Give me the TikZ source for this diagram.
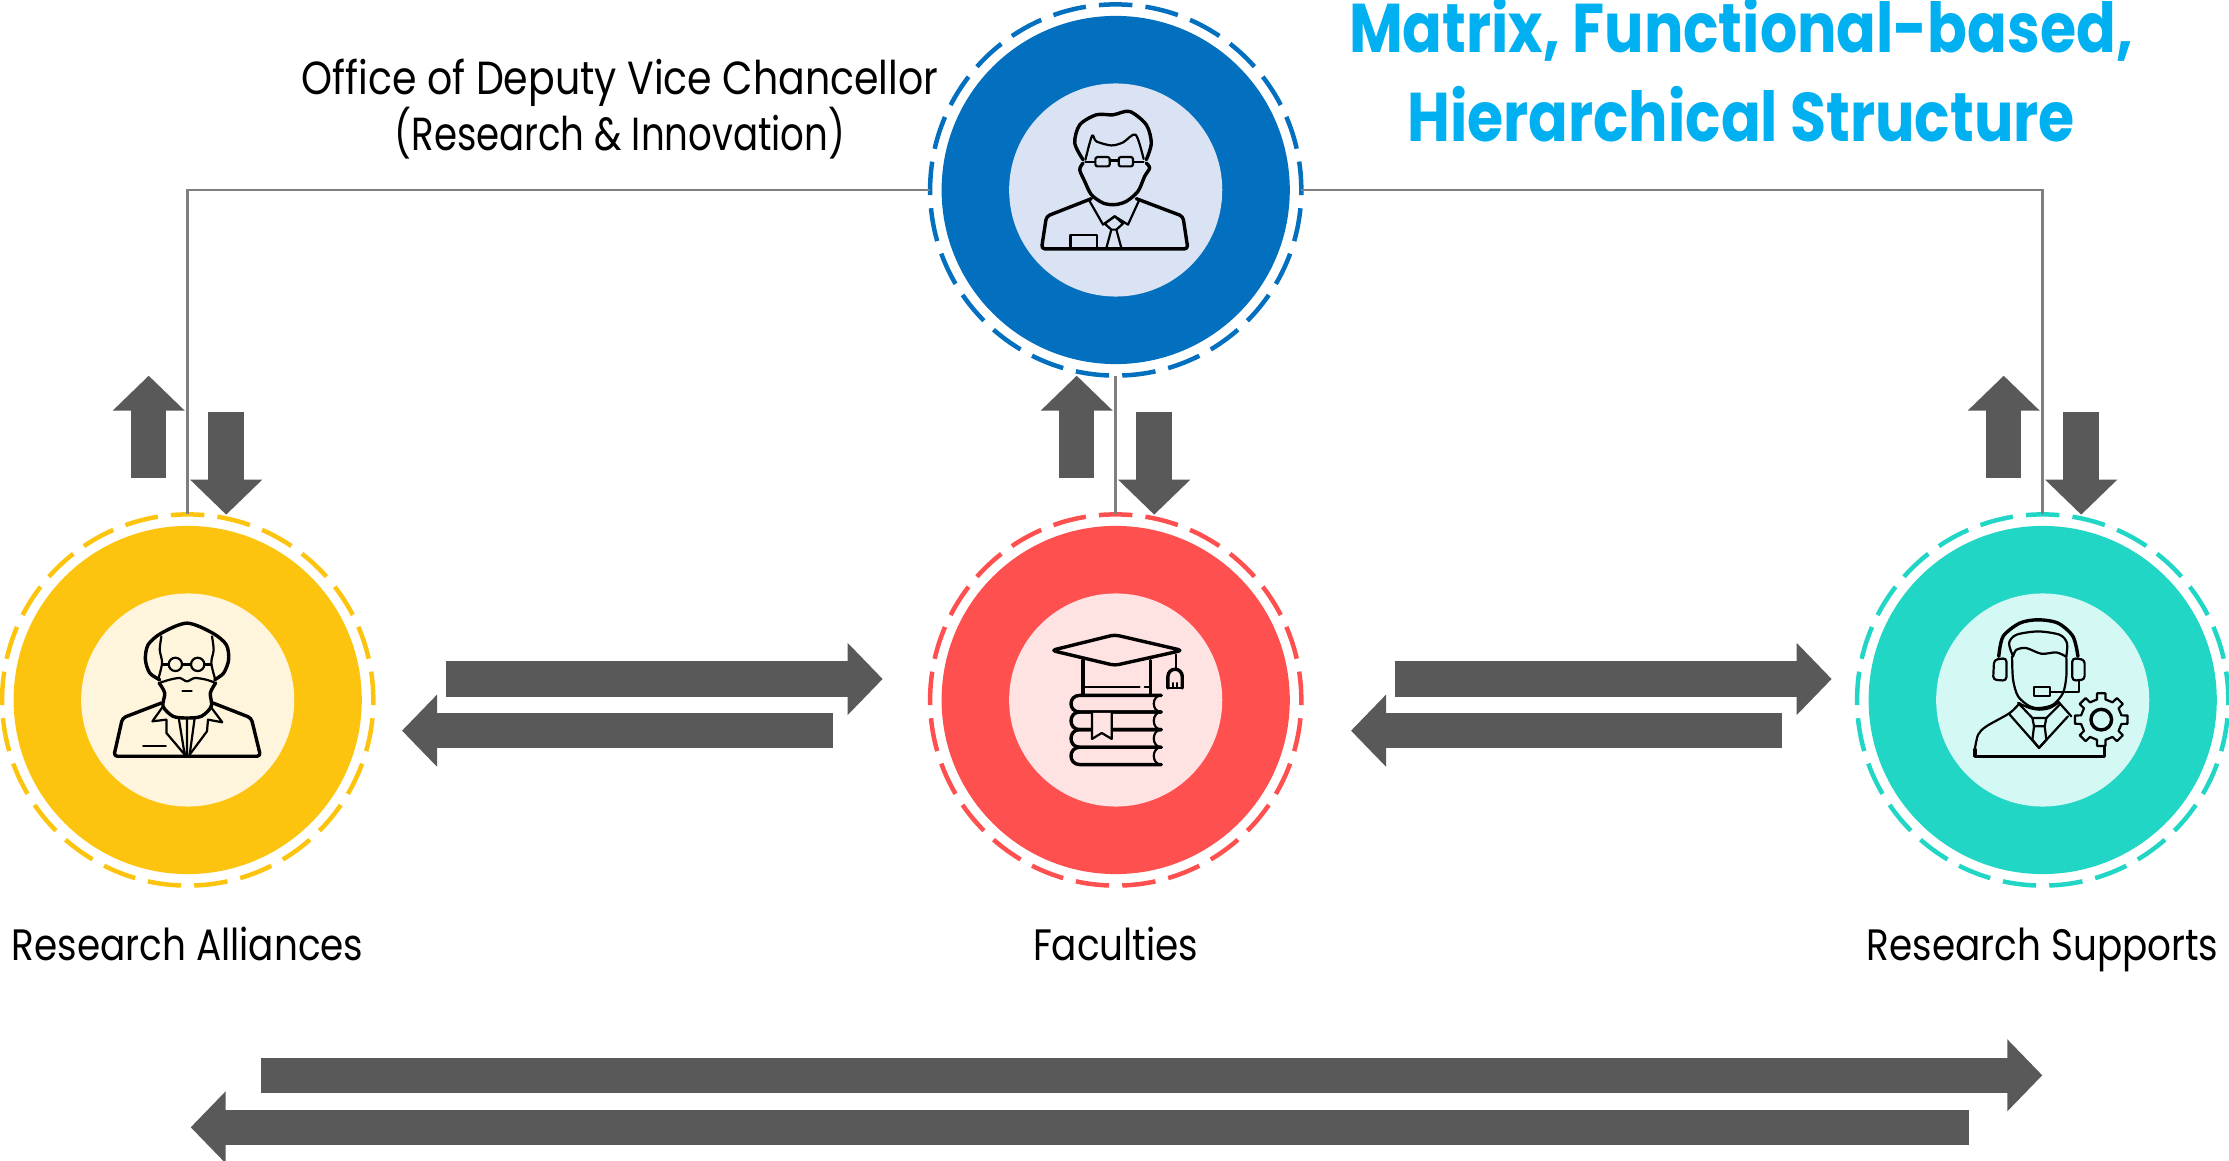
\documentclass[tikz,border=0pt]{standalone}
\usepackage{fontspec}
\usetikzlibrary{arrows.meta}
\newfontfamily\labelfont[FakeStretch=0.85]{Poppins}
\newfontfamily\narrowfont[FakeStretch=0.8]{Poppins}
\definecolor{dvcblue}{HTML}{0370BF}
\definecolor{dvcpale}{HTML}{DAE3F3}
\definecolor{allyellow}{HTML}{FDC40F}
\definecolor{allpale}{HTML}{FFF5DC}
\definecolor{facred}{HTML}{FF5050}
\definecolor{facpale}{HTML}{FFE3E3}
\definecolor{supteal}{HTML}{22D6C6}
\definecolor{suppale}{HTML}{D4F8F4}
\definecolor{blockgrey}{HTML}{595959}
\definecolor{linkgrey}{HTML}{7F7F7F}
\definecolor{titleblue}{HTML}{00B0F0}
\tikzset{
  ringnode/.style={circle, draw=#1, line width=0.045cm, inner sep=0, outer sep=0,
    minimum size=3.71cm, dash pattern=on 0.335cm off 0.1312cm, dash phase=0.05cm},
  discnode/.style={circle, fill=#1, inner sep=0, outer sep=0, minimum size=3.48cm},
  corenode/.style={circle, fill=#1, inner sep=0, outer sep=0, minimum size=2.13cm},
  blockarrow/.style={draw=blockgrey, line width=0.355cm,
    -{Triangle[width=0.7cm,length=0.35cm,fill=blockgrey]}},
  linkline/.style={draw=linkgrey, line width=0.025cm},
  labeltext/.style={font=\labelfont\fontsize{12.5}{16}\selectfont, inner sep=0},
  officetext/.style={font=\labelfont\fontsize{13.2}{16}\selectfont, inner sep=0, align=center},
  titletext/.style={font=\labelfont\bfseries\fontsize{19.6}{25.3}\selectfont,
    text=titleblue, inner sep=0, align=center},
  zoomed/.style={x=0.003333cm, y=-0.003333cm, line join=round, line cap=round},
  iconthick/.style={line width=0.034cm},
  iconthin/.style={line width=0.022cm}
}
\begin{document}
\begin{tikzpicture}[x=0.01cm,y=-0.01cm]
\useasboundingbox (0,0) rectangle (2229,1161);
\foreach \nm/\cx/\cy/\main/\pale in {dvc/1115.7/190/dvcblue/dvcpale, alliances/187.7/700/allyellow/allpale,
    faculties/1115.7/700/facred/facpale, supports/2042.7/700/supteal/suppale} {
  \node [ringnode=\main] (\nm) at (\cx,\cy) {};
  \node [discnode=\main] (\nm disc) at (\nm) {};
  \node [corenode=\pale] (\nm core) at (\nm) {};
}
\draw [linkline] (dvc.west) -| (alliances.north);
\draw [linkline] (dvc.east) -| (supports.north);
\draw [linkline] (dvc.south) -- (faculties.north);
\foreach \nm in {alliances,faculties,supports} {
  \draw [blockarrow] ([shift={(-39,-222)}]\nm.center) -- ([shift={(-39,-324.3)}]\nm.center);
  \draw [blockarrow] ([shift={(38.5,-288)}]\nm.center) -- ([shift={(38.5,-185.3)}]\nm.center);
}
\foreach \xs/\xe/\xt/\xh/\ya/\yb in {445.7/882.7/832.7/402/679/730.7, 1394.7/1831.7/1781.7/1351/679/730.7,
    261/2042.3/1968.7/190.7/1075.3/1127.3} {
  \coordinate (rightfrom) at (\xs,\ya); \coordinate (rightto) at (\xe,\ya);
  \coordinate (leftfrom) at (\xt,\yb); \coordinate (leftto) at (\xh,\yb);
  \draw [blockarrow] (rightfrom) -- (rightto);
  \draw [blockarrow] (leftfrom) -- (leftto);
}
\node [officetext] (dvclabel) at (620,109) {Office of Deputy Vice Chancellor\\{\narrowfont(Research \& Innovation)}};
\node [labeltext, anchor=base] (allianceslabel) at (187.7,960) {Research Alliances};
\node [labeltext, anchor=base] (facultieslabel) at (1115.7,960) {Faculties};
\node [labeltext, anchor=base] (supportslabel) at (2042.7,960) {Research Supports};
\node [titletext] (titlelabel) at (1741,70) {Matrix, Functional-based,\\Hierarchical Structure};
\begin{scope}[shift={(920,0)},zoomed]
  \draw [iconthick] plot [smooth] coordinates {(490,480) (465,430) (480,375) (530,345) (580,345) (630,335) (680,375) (695,430) (680,480)};
  \draw [iconthin] plot [smooth] coordinates {(497,480) (517,408) (530,425) (575,437) (610,428) (648,405) (672,478)};
  \draw [iconthick] plot [smooth] coordinates {(490,490) (480,510) (495,545) (515,585) (550,610) (585,615) (620,605) (655,575) (675,530) (690,505) (680,490)};
  \draw [iconthin, rounded corners=0.6pt] (527,472) rectangle (570,500) (597,472) rectangle (640,500);
  \draw [iconthin] (497,487) -- (527,487) (570,482) -- (597,482) (640,487) -- (672,487);
  \draw [iconthick, rounded corners=1pt] (515,597) -- (380,650) -- (365,748) -- (805,748) -- (790,650) -- (650,597);
  \draw [iconthin] (510,605) -- (550,675) -- (585,650) -- (625,675) -- (657,605);
  \draw [iconthin] (555,672) -- (585,650) -- (610,672) -- (590,690) -- (575,690) -- cycle;
  \draw [iconthin] (575,690) -- (560,745) (590,690) -- (605,745);
  \draw [iconthin] (452,745) -- (452,705) -- (533,705) -- (533,745);
\end{scope}
\begin{scope}[shift={(0,500)},zoomed]
  \draw [iconthick] plot [smooth] coordinates {(480,540) (450,520) (437,480) (445,435) (485,400) (562,370) (639,400) (680,435) (687,480) (672,520) (645,540)};
  \draw [iconthin] plot [smooth] coordinates {(485,410) (480,450) (487,490) (475,540)};
  \draw [iconthin] plot [smooth] coordinates {(637,410) (642,450) (635,490) (647,540)};
  \draw [iconthin] (527,494) circle [radius=20] (594,494) circle [radius=20];
  \draw [iconthin] (487,494) -- (507,494) (547,494) -- (574,494) (614,494) -- (635,494);
  \draw [iconthin] plot [smooth] coordinates {(478,550) (510,540) (540,535) (562,545) (585,535) (620,540) (648,550)};
  \draw [iconthick] plot [smooth] coordinates {(478,550) (495,580) (490,620) (520,650) (562,655) (605,650) (635,620) (632,580) (648,550)};
  \draw [iconthin] (548,573) -- (576,573);
  \draw [iconthick, rounded corners=1pt] (485,610) -- (368,655) -- (342,770) -- (783,770) -- (755,655) -- (640,610);
  \draw [iconthin] (490,620) -- (458,665) -- (500,660) -- (500,700) -- (555,765);
  \draw [iconthin] (632,620) -- (668,668) -- (625,660) -- (622,695) -- (570,765);
  \draw [iconthin] (537,655) -- (555,765) (585,655) -- (570,765) (562,660) -- (562,765);
  \draw [iconthin] (430,738) -- (498,738);
\end{scope}
\begin{scope}[shift={(920,500)},zoomed]
  \draw [iconthick, rounded corners=1.2pt] (395,452) -- (585,405) -- (788,452) -- (585,497) -- cycle;
  \draw [iconthick] (490,482) -- (490,582) (692,482) -- (692,582);
  \draw [iconthin] (495,563) -- (660,563) (675,563) -- (692,563);
  \draw [iconthin] (770,465) -- (770,510);
  \draw [iconthick] (745,565) -- (745,530) arc [start angle=180,end angle=360,radius=21.5] -- (788,565);
  \draw [iconthin] (745,565) -- (788,565) (760,550) -- (760,565) (773,550) -- (773,565);
  \foreach \ya/\yb in {587/637,637/690,690/743,743/795} {
    \draw [iconthick] (725,\ya) -- (480,\ya) .. controls (445,\ya) and (445,\yb) .. (480,\yb) -- (725,\yb);
    \draw [iconthin] (725,\ya) .. controls (695,\ya) and (695,\yb) .. (725,\yb);
  }
  \draw [iconthin, fill=facpale] (517,640) -- (517,718) -- (546,700) -- (576,718) -- (576,640);
\end{scope}
\begin{scope}[shift={(1850,500)},zoomed]
  \draw [iconthick] plot [smooth] coordinates {(447,470) (460,410) (510,370) (565,360) (625,370) (670,410) (685,470)};
  \draw [iconthin] plot [smooth] coordinates {(490,470) (478,430) (500,405) (565,395) (630,405) (652,430) (650,470)};
  \draw [iconthin] plot [smooth] coordinates {(490,470) (500,450) (530,445) (575,462) (620,458) (648,470)};
  \draw [iconthin] plot [smooth] coordinates {(487,470) (490,540) (505,590) (540,620) (570,625) (610,615) (640,580) (650,530) (650,470)};
  \draw [iconthin, rounded corners=1pt] (470,475) -- (433,480) -- (430,540) -- (470,543) -- cycle;
  \draw [iconthin, rounded corners=1pt] (668,475) -- (705,480) -- (705,540) -- (668,543) -- cycle;
  \draw [iconthin] (688,540) -- (688,578) -- (602,578);
  \draw [iconthin] (552,562) rectangle (602,590);
  \draw [iconthin] plot [smooth] coordinates {(505,610) (540,625) (570,630) (600,625) (625,610)};
  \draw [iconthin] plot [smooth] coordinates {(510,610) (480,640) (410,680) (385,705) (375,750)};
  \draw [iconthick] (375,750) -- (375,770) -- (765,770) -- (765,740);
  \draw [iconthin] (625,605) -- (665,650);
  \draw [iconthin] (480,645) -- (568,745) -- (655,650);
  \draw [iconthin] (548,655) -- (590,655) -- (585,680) -- (553,680) -- cycle;
  \draw [iconthin] (553,680) -- (548,720) -- (568,745) -- (590,720) -- (585,680);
  \draw [iconthin] (510,615) -- (548,655) (590,655) -- (630,615);
  \begin{scope}[shift={(755,660)}]
    \draw [iconthin] (-12:62) \foreach \ang in {0,45,...,315} { -- (\ang-12:62) -- (\ang-9:80) -- (\ang+9:80) -- (\ang+12:62) } -- cycle;
    \draw [iconthick] (0,0) circle [radius=31];
  \end{scope}
\end{scope}
\end{tikzpicture}
\end{document}
